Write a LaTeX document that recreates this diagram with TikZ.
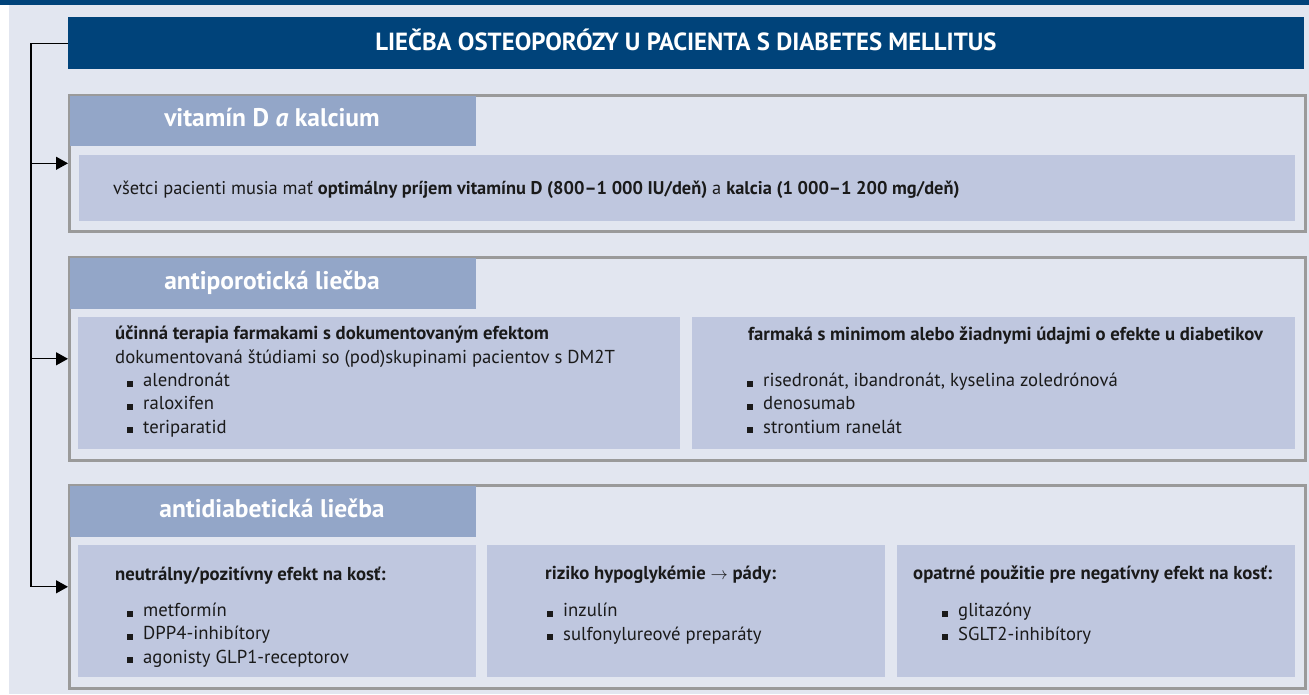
\documentclass[tikz,border=0pt]{standalone}
\usepackage{fontspec}
\setmainfont{PT Sans}
\usetikzlibrary{arrows.meta}
\definecolor{navy}{HTML}{00437A}
\definecolor{pagebg}{HTML}{E2E6F0}
\definecolor{band}{HTML}{93A6C8}
\definecolor{cell}{HTML}{BFC7DF}
\definecolor{frame}{HTML}{9A9A9A}
\definecolor{ink}{HTML}{1A1A1A}
\newcommand{\bul}{\rule{6pt}{6pt}\hspace{10pt}}
\begin{document}
\begin{tikzpicture}[x=1pt,y=-1pt,
  titlebar/.style={fill=navy,draw=none,anchor=north west,inner sep=0},
  secbox/.style={draw=frame,line width=2.6pt,fill=pagebg,anchor=north west,inner sep=0},
  bandbox/.style={fill=band,draw=none,anchor=north west,inner sep=0},
  cellbox/.style={fill=cell,draw=none,anchor=north west,inner sep=0},
  titletext/.style={text=white,font=\fontsize{24.8}{26}\selectfont\bfseries,inner sep=0,anchor=base},
  headtext/.style={text=white,font=\fontsize{25.5}{28}\selectfont\bfseries,inner sep=0,anchor=base},
  bodytext/.style={text=ink,font=\fontsize{18.7}{23.2}\selectfont,inner sep=0,anchor=base west,align=left},
  conn/.style={draw=black,line width=1.3pt},
  arr/.style={conn,-{Triangle[length=12pt,width=13pt]}}
]
\useasboundingbox (0,0) rectangle (1309,695);
\fill[white] (0,0) rectangle (1309,695);
\fill[pagebg] (9,0) rectangle (1309,694);
\fill[navy] (0,0) rectangle (1309,5);

% title
\node[titlebar,minimum width=1236pt,minimum height=52pt] (title) at (68,17) {};
\node[titletext] (titlet) at (686,50.5) {LIEČBA OSTEOPORÓZY U PACIENTA S DIABETES MELLITUS};

% section boxes
\node[secbox,minimum width=1236pt,minimum height=136pt] (s1) at (68,94) {};
\node[secbox,minimum width=1236pt,minimum height=203pt] (s2) at (68,256) {};
\node[secbox,minimum width=1236pt,minimum height=203pt] (s3) at (68,484) {};

% header bands
\node[bandbox,minimum width=406pt,minimum height=50pt] (b1) at (69.5,95.5) {};
\node[bandbox,minimum width=406pt,minimum height=51pt] (b2) at (69.5,257.5) {};
\node[bandbox,minimum width=406pt,minimum height=51pt] (b3) at (69.5,485.5) {};
\node[headtext] (h1) at (272,127) {vitamín D \textit{a} kalcium};
\node[headtext] (h2) at (272,289) {antiporotická liečba};
\node[headtext] (h3) at (272,517) {antidiabetická liečba};

% content cells
\node[cellbox,minimum width=1216pt,minimum height=66pt] (c1) at (79,155) {};
\node[cellbox,minimum width=602pt,minimum height=132pt] (c2a) at (78,317) {};
\node[cellbox,minimum width=603pt,minimum height=132pt] (c2b) at (692,317) {};
\node[cellbox,minimum width=398pt,minimum height=132pt] (c3a) at (78,545) {};
\node[cellbox,minimum width=398pt,minimum height=132pt] (c3b) at (487,545) {};
\node[cellbox,minimum width=398pt,minimum height=132pt] (c3c) at (897,545) {};

% texts (base anchor = baseline of the last line)
\node[bodytext,font=\fontsize{18.4}{23.2}\selectfont] (t1) at (113,195) {všetci pacienti musia mať \textbf{optimálny príjem vitamínu D (800–1~000 IU/deň)} a \textbf{kalcia (1~000–1~200 mg/deň)}};

\node[bodytext] (t2a) at (115,363) {\textbf{účinná terapia farmakami s dokumentovaným efektom}\\dokumentovaná štúdiami so (pod)skupinami pacientov s DM2T};
\node[bodytext] (l2a) at (127,433) {\bul alendronát\\\bul raloxifen\\\bul teriparatid};

\node[bodytext] (t2b) at (748,340) {\textbf{farmaká s minimom alebo žiadnymi údajmi o efekte u diabetikov}};
\node[bodytext] (l2b) at (747,433) {\bul risedronát, ibandronát, kyselina zoledrónová\\\bul denosumab\\\bul strontium ranelát};

\node[bodytext] (t3a) at (115,580) {\textbf{neutrálny/pozitívny efekt na kosť:}};
\node[bodytext] (l3a) at (127,663) {\bul metformín\\\bul DPP4-inhibítory\\\bul agonisty GLP1-receptorov};

\node[bodytext] (t3b) at (545,579) {\textbf{riziko hypoglykémie $\rightarrow$ pády:}};
\node[bodytext] (l3b) at (547,640) {\bul inzulín\\\bul sulfonylureové preparáty};

\node[bodytext] (t3c) at (913,579) {\textbf{opatrné použitie pre negatívny efekt na kosť:}};
\node[bodytext] (l3c) at (942,640) {\bul glitazóny\\\bul SGLT2-inhibítory};

% connectors
\coordinate (trunk) at (31,0);
\draw[conn] (title.west) -- (title.west -| trunk) -- (trunk |- s3.west);
\draw[arr] (trunk |- s1.west) -- (s1.west);
\draw[arr] (trunk |- s2.west) -- (s2.west);
\draw[arr] (trunk |- s3.west) -- (s3.west);
\end{tikzpicture}
\end{document}
